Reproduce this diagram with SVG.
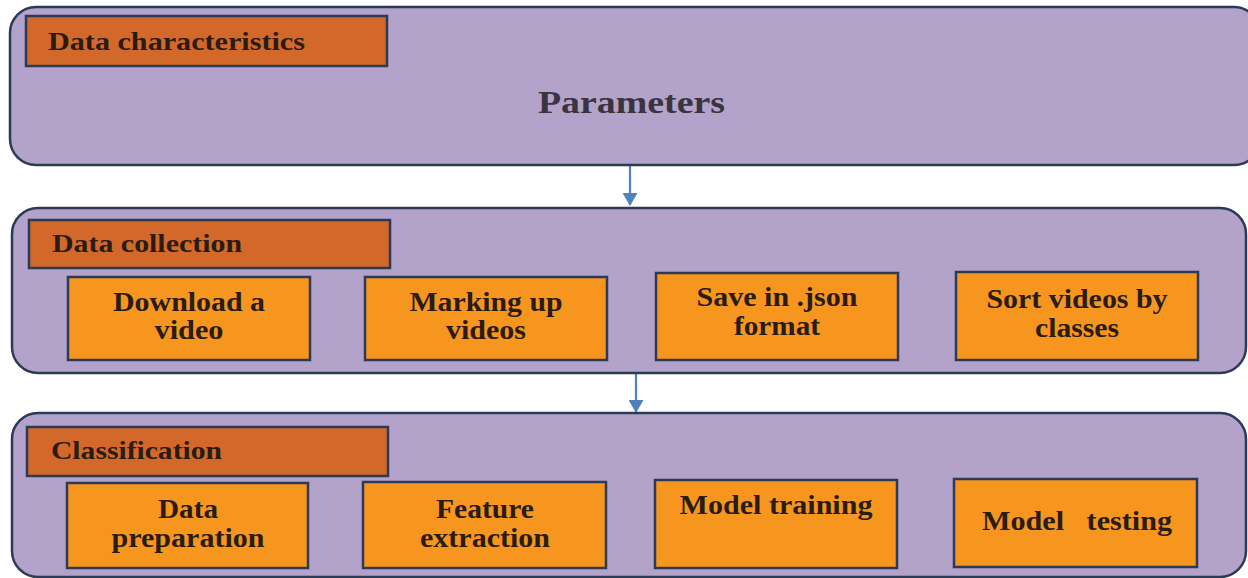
<svg xmlns="http://www.w3.org/2000/svg" width="1248" height="578" viewBox="0 0 1248 578">
<defs>
<style>
.panel{fill:#b3a2c9;stroke:#2c3a58;stroke-width:2.5}
.head{fill:#d2692b;stroke:#2c3a58;stroke-width:2.5}
.box{fill:#f7961e;stroke:#2c3a58;stroke-width:2.5}
text{font-family:"Liberation Serif","Times New Roman",serif;font-weight:bold;fill:#2a1c12}
.ht{font-size:25px}
.bt{font-size:27px;text-anchor:middle}
.conn{stroke:#4f81bd;stroke-width:2.2;fill:none}
</style>
<marker id="arr" markerWidth="13" markerHeight="15" refX="12" refY="7.5" orient="auto" markerUnits="userSpaceOnUse" viewBox="0 0 13 15">
<path d="M0,0 L13,7.5 L0,15 z" fill="#4f81bd"/>
</marker>
</defs>
<rect x="0" y="0" width="1248" height="578" fill="#ffffff"/>
<g id="connectors">
<line class="conn" x1="630" y1="166" x2="630" y2="205" marker-end="url(#arr)"/>
<line class="conn" x1="636" y1="374" x2="636" y2="412" marker-end="url(#arr)"/>
</g>
<g id="panel-characteristics">
<rect class="panel" x="10" y="7" width="1250" height="158" rx="26"/>
<rect class="head" x="26" y="16" width="361" height="50"/>
<text class="ht" x="48" y="50" textLength="257" lengthAdjust="spacingAndGlyphs">Data characteristics</text>
<text x="538" y="113" textLength="187" lengthAdjust="spacingAndGlyphs" style="font-size:31px;fill:#3a3440">Parameters</text>
</g>
<g id="panel-collection">
<rect class="panel" x="12" y="208" width="1234" height="165" rx="26"/>
<rect class="head" x="29" y="220" width="361" height="48"/>
<text class="ht" x="52" y="252" textLength="190" lengthAdjust="spacingAndGlyphs">Data collection</text>
</g>
<g id="node-download">
<rect class="box" x="68" y="277" width="242" height="83"/>
<text class="bt" x="189" y="311" textLength="152" lengthAdjust="spacingAndGlyphs">Download a</text>
<text class="bt" x="189" y="339" textLength="69" lengthAdjust="spacingAndGlyphs">video</text>
</g>
<g id="node-marking">
<rect class="box" x="365" y="277" width="242" height="83"/>
<text class="bt" x="486" y="311" textLength="153" lengthAdjust="spacingAndGlyphs">Marking up</text>
<text class="bt" x="486" y="339" textLength="80" lengthAdjust="spacingAndGlyphs">videos</text>
</g>
<g id="node-json">
<rect class="box" x="656" y="273" width="242" height="87"/>
<text class="bt" x="777" y="306" textLength="161" lengthAdjust="spacingAndGlyphs">Save in .json</text>
<text class="bt" x="777" y="335" textLength="86" lengthAdjust="spacingAndGlyphs">format</text>
</g>
<g id="node-sort">
<rect class="box" x="956" y="272" width="242" height="88"/>
<text class="bt" x="1077" y="308" textLength="181" lengthAdjust="spacingAndGlyphs">Sort videos by</text>
<text class="bt" x="1077" y="337" textLength="84" lengthAdjust="spacingAndGlyphs">classes</text>
</g>
<g id="panel-classification">
<rect class="panel" x="12" y="413" width="1234" height="164" rx="26"/>
<rect class="head" x="27" y="427" width="361" height="49"/>
<text class="ht" x="51" y="459" textLength="171" lengthAdjust="spacingAndGlyphs">Classification</text>
</g>
<g id="node-prep">
<rect class="box" x="67" y="483" width="241" height="85"/>
<text class="bt" x="188" y="518" textLength="60" lengthAdjust="spacingAndGlyphs">Data</text>
<text class="bt" x="188" y="547" textLength="153" lengthAdjust="spacingAndGlyphs">preparation</text>
</g>
<g id="node-feature">
<rect class="box" x="363" y="482" width="243" height="86"/>
<text class="bt" x="485" y="518" textLength="98" lengthAdjust="spacingAndGlyphs">Feature</text>
<text class="bt" x="485" y="547" textLength="130" lengthAdjust="spacingAndGlyphs">extraction</text>
</g>
<g id="node-training">
<rect class="box" x="655" y="480" width="242" height="88"/>
<text class="bt" x="776" y="514" textLength="193" lengthAdjust="spacingAndGlyphs">Model training</text>
</g>
<g id="node-testing">
<rect class="box" x="954" y="479" width="243" height="88"/>
<text class="bt" x="1077" y="530" textLength="190" lengthAdjust="spacingAndGlyphs" xml:space="preserve">Model   testing</text>
</g>
</svg>
